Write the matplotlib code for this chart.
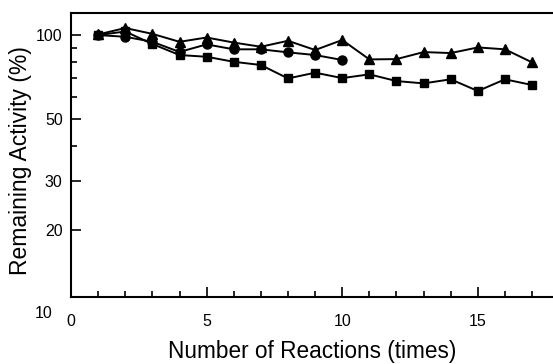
import matplotlib.pyplot as plt
import numpy as np
from matplotlib.ticker import FixedLocator, NullFormatter

plt.rcParams['font.family'] = ['Liberation Sans', 'DejaVu Sans']

# remaining activity (%) after repeated reactions
reactions_tri = list(range(1, 18))
activity_tri = [100.5, 106, 101, 94.6, 98, 94, 90.8, 95.4, 88.4, 96,
                81.8, 82, 86.9, 86.2, 90.3, 88.9, 79.8]

reactions_circ = list(range(1, 11))
activity_circ = [100, 98.6, 94.6, 87, 92.6, 88.9, 88.9, 86.7, 84.8, 81.4]

reactions_sq = list(range(1, 18))
activity_sq = [100, 103, 92.9, 84.8, 83.6, 80.2, 78.1, 69.9, 73.3, 70.1,
               72.3, 68.4, 67.1, 69.4, 63.0, 69.4, 66.2]

y_major = [20, 30, 50, 100]
y_minor = [40, 60, 70, 80, 90]

fig = plt.figure(figsize=(5.53, 3.64), dpi=100)
ax = fig.add_axes([0.1284, 0.1841, 0.8716, 0.7802])

style = dict(color='black', linewidth=1.4, markeredgecolor='black', markerfacecolor='black')
ax.plot(reactions_sq, activity_sq, marker='s', markersize=6, **style)
ax.plot(reactions_circ, activity_circ, marker='o', markersize=6.5, **style)
ax.plot(reactions_tri, activity_tri, marker='^', markersize=7.5, **style)

ax.set_yscale('log')
ax.set_ylim(11.5, 120)
ax.set_xlim(0, 17.77)

ax.yaxis.set_major_locator(FixedLocator(y_major))
ax.yaxis.set_major_formatter(plt.FuncFormatter(lambda v, p: f"{v:g}"))
ax.yaxis.set_minor_locator(FixedLocator(y_minor))
ax.yaxis.set_minor_formatter(NullFormatter())
ax.set_xticks([0, 5, 10, 15])
ax.set_xticks(range(0, 18), minor=True)

ax.tick_params(which='both', direction='in', labelsize=11.5, width=1.2,
               right=False, top=False)
ax.tick_params(axis='y', pad=6)
ax.tick_params(axis='x', pad=12)
ax.tick_params(which='major', length=7)
ax.tick_params(which='minor', length=4)

# the "10" label sits just below the axis end
ax.annotate("10", xy=(0, 10), xycoords=ax.get_yaxis_transform(),
            xytext=(-13, 0), textcoords='offset points',
            ha='right', va='center', fontsize=11.5, annotation_clip=False)

for side in ['left', 'bottom', 'top']:
    ax.spines[side].set_linewidth(1.5)
ax.spines['right'].set_visible(False)

ax.set_xlabel("Number of Reactions (times)", fontsize=16.3, labelpad=8)
ax.set_ylabel("Remaining Activity (%)", fontsize=16.5)
ax.yaxis.set_label_coords(-0.08, 0.479)

fig.savefig("out.png", dpi=100)
